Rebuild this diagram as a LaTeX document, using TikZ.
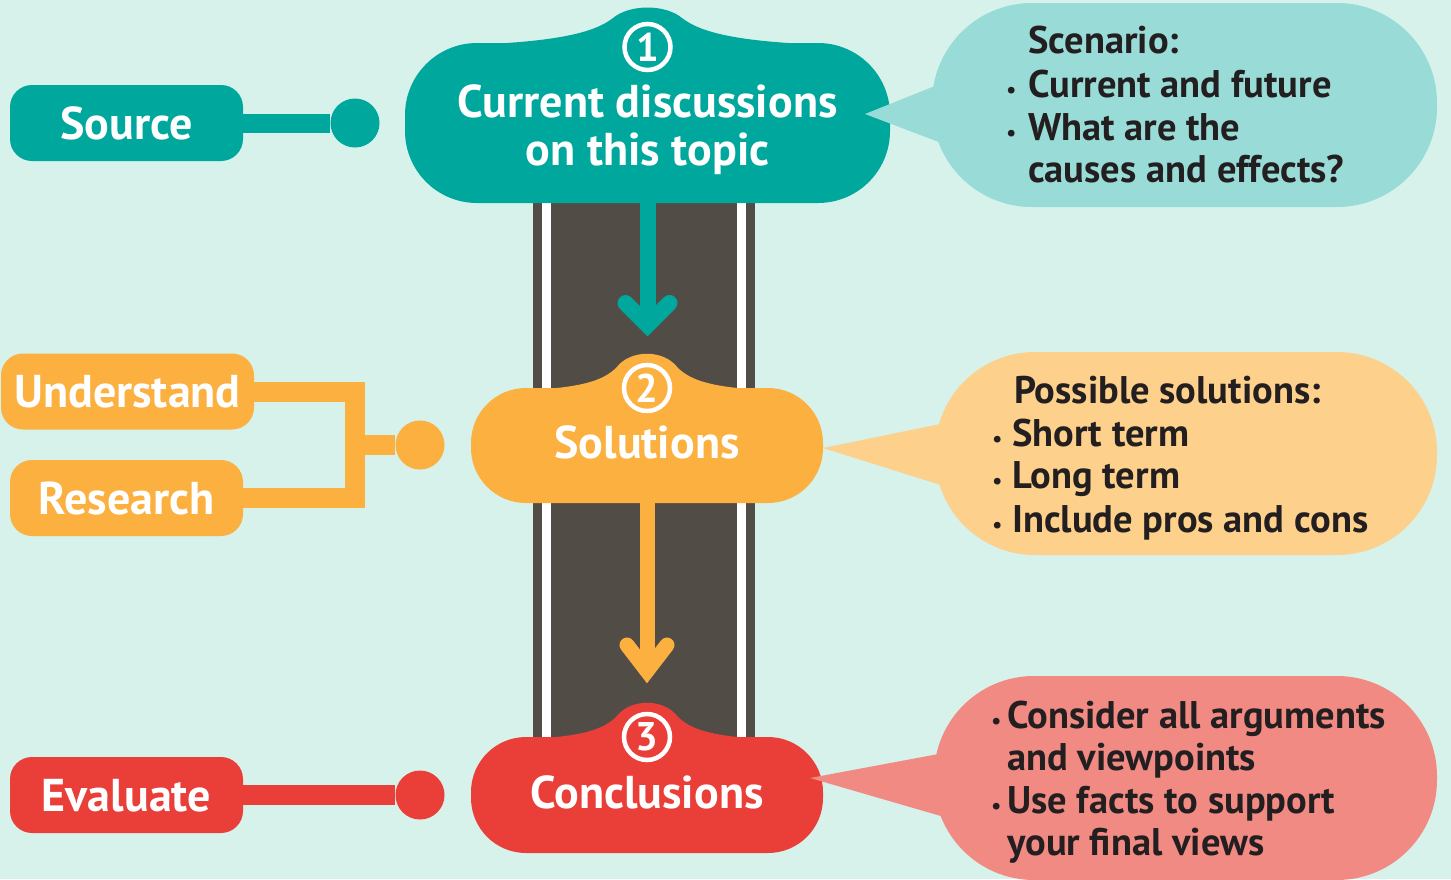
\documentclass[tikz,border=0pt]{standalone}
\usepackage{fontspec}
\setmainfont{PT Sans}
\usetikzlibrary{calc}
\pgfdeclarelayer{back}
\pgfdeclarelayer{mid}
\pgfsetlayers{back,mid,main}
\definecolor{bgc}{HTML}{D6F2EA}
\definecolor{tealc}{HTML}{00A79D}
\definecolor{lteal}{HTML}{99DBD6}
\definecolor{orc}{HTML}{FBB040}
\definecolor{lor}{HTML}{FDD08B}
\definecolor{redc}{HTML}{EA3F38}
\definecolor{pinkc}{HTML}{F28A84}
\definecolor{roadc}{HTML}{514D46}
\definecolor{txtc}{HTML}{231F20}
\newcommand{\bul}[1][10pt]{\llap{{\fontsize{22}{22}\selectfont •}\hspace{#1}}}
\begin{document}
\begin{tikzpicture}[x=1pt,y=-1pt,
  lab/.style={text=white, font=\bfseries\fontsize{46}{48}\selectfont},
  tag/.style={rectangle, rounded corners=22pt, minimum height=76pt, minimum width=233pt, inner sep=0pt, lab, text height=32pt, text depth=0pt},
  dot/.style={circle, minimum size=49pt, inner sep=0pt},
  body/.style={rectangle, inner sep=0pt, lab, text height=32pt, text depth=6pt},
  numc/.style={circle, draw=white, line width=4.5pt, minimum size=46pt, inner sep=0pt, text=white, font=\bfseries\fontsize{40}{40}\selectfont},
  bubble/.style={rectangle, inner sep=0pt},
  btxt/.style={anchor=base west, inner sep=0pt, text=txtc, font=\bfseries\fontsize{38.5}{43}\selectfont},
  headline/.style={line cap=round, line join=miter, miter limit=10}
]
\useasboundingbox (0,0) rectangle (1451,879);

\begin{pgfonlayer}{back}
\fill[bgc] (0,0) rectangle (1451,879);
% road
\fill[roadc] (533,190) rectangle (755,745);
\fill[white] (542,190) rectangle (551,745);
\fill[white] (737,190) rectangle (746,745);
\end{pgfonlayer}

% coordinates
\coordinate (a1) at (647.5,325);
\coordinate (a2) at (647,671);
\coordinate (jn) at (355,445);

% main nodes (bodies)
\node[body, fill=tealc, minimum width=485pt, minimum height=160pt, rounded corners=72pt] (n1) at (647.5,123) {};
\node[body, fill=orc, minimum width=352pt, minimum height=115pt, rounded corners=55pt] (n2) at (647,445.5) {Solutions};
\node[body, fill=redc, minimum width=352pt, minimum height=116pt, rounded corners=55pt] (n3) at (647,795) {Conclusions};

% bumps
\fill[tealc] (465,45) .. controls (560,42) and (595,32) .. (613,18) .. controls (630,4) and (665,4) .. (682,18) .. controls (700,32) and (735,42) .. (830,45) -- (830,60) -- (465,60) -- cycle;
\fill[orc] (530,390) .. controls (590,387) and (605,378) .. (616,368) .. controls (630,349) and (664,349) .. (678,368) .. controls (689,378) and (704,387) .. (764,390) -- (764,400) -- (530,400) -- cycle;
\fill[redc] (530,739) .. controls (590,736) and (605,727) .. (616,717) .. controls (630,698) and (664,698) .. (678,717) .. controls (689,727) and (704,736) .. (764,739) -- (764,749) -- (530,749) -- cycle;

% number circles
\node[numc] (c1) at (647.5,47) {1};
\node[numc] (c2) at (647,388) {2};
\node[numc] (c3) at (647,737) {3};

\node[lab, align=center, inner sep=0pt] (n1t) at (647.5,130) {Current discussions\\on this topic};

% left tags and dots
\node[tag, fill=tealc] (src) at (126.5,123) {Source};
\node[tag, fill=orc, minimum width=253pt] (und) at (127.5,391.5) {Understand};
\node[tag, fill=orc] (res) at (126.5,498) {Research};
\node[tag, fill=redc] (ev) at (126.5,795) {Evaluate};
\node[dot, fill=tealc] (d1) at (355,123) {};
\node[dot, fill=orc] (d2) at (420,445) {};
\node[dot, fill=redc] (d3) at (420,795) {};

\begin{pgfonlayer}{mid}
% arrows along the road
\draw[tealc, line width=16pt] (n1.south) -- (a1);
\draw[tealc, line width=16pt, headline] ($(a1)+(-22,-22)$) -- (a1) -- ($(a1)+(22,-22)$);
\draw[orc, line width=15pt] (n2.south) -- (a2);
\draw[orc, line width=15pt, headline] ($(a2)+(-20,-26)$) -- (a2) -- ($(a2)+(20,-26)$);
% left connectors
\draw[tealc, line width=19pt] (src.east) -- (d1);
\draw[orc, line width=20pt] (und.east) -| (jn) |- (res.east);
\draw[orc, line width=20pt] (jn) -- (d2);
\draw[redc, line width=20pt] (ev.east) -- (d3);
\end{pgfonlayer}

% speech bubbles
\node[bubble, fill=lteal, minimum width=505pt, minimum height=204pt, rounded corners=100pt] (b1) at (1184.5,105) {};
\coordinate (t1) at (865,114);
\fill[lteal] (t1) -- ($(b1.west)+(28,-29)$) -- ($(b1.west)+(28,45)$) -- cycle;
\node[bubble, fill=lor, minimum width=502pt, minimum height=203pt, rounded corners=100pt] (b2) at (1186,453.5) {};
\coordinate (t2) at (823,448);
\fill[lor] (t2) -- ($(b2.west)+(25,-33.5)$) -- ($(b2.west)+(25,37.5)$) -- cycle;
\node[bubble, fill=pinkc, minimum width=503pt, minimum height=204pt, rounded corners=100pt] (b3) at (1185.5,778) {};
\coordinate (t3) at (810,778);
\fill[pinkc] (t3) -- ($(b3.west)+(26,-28)$) -- ($(b3.west)+(26,43.5)$) -- cycle;

% bubble texts
\node[btxt] (s1) at (1028,53) {Scenario:};
\node[btxt] (s2) at (1028,97) {\bul[12pt]Current and future};
\node[btxt] (s3) at (1028,140) {\bul[12pt]What are the};
\node[btxt] (s4) at (1028,182) {causes and effects?};

\node[btxt] (p1) at (1014,403) {Possible solutions:};
\node[btxt] (p2) at (1012,446) {\bul Short term};
\node[btxt] (p3) at (1012,488) {\bul Long term};
\node[btxt] (p4) at (1012,532) {\bul Include pros and cons};

\node[btxt] (q1) at (1007,728) {\bul[6pt]Consider all arguments};
\node[btxt] (q2) at (1007,770) {and viewpoints};
\node[btxt] (q3) at (1007,813) {\bul[6pt]Use facts to support};
\node[btxt] (q4) at (1007,855) {your final views};
\end{tikzpicture}
\end{document}
